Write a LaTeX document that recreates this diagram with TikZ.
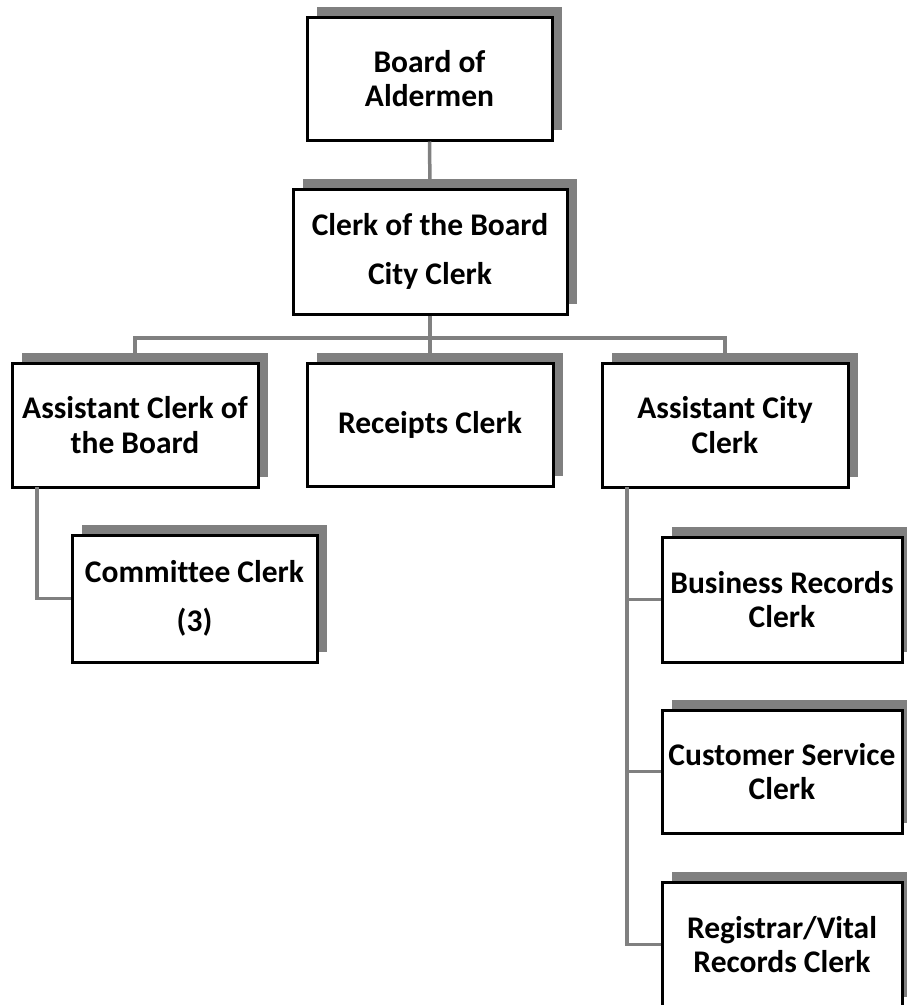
\documentclass[tikz,border=0pt]{standalone}
\usepackage{fontspec}
\setmainfont{Carlito}[Ligatures=CommonOff]
\usetikzlibrary{shadows}
\begin{document}
\begin{tikzpicture}[x=1pt,y=-1pt,
  box/.style={draw=black, line width=3pt, fill=white, align=center,
    font=\fontsize{31.5}{34.5}\selectfont\bfseries, inner sep=0pt,
    general shadow={fill=black!50, shadow xshift=10pt, shadow yshift=10pt}},
  conn/.style={draw=black!50, line width=3.5pt}]
\useasboundingbox (0,0) rectangle (907,1005);
\node[box, minimum width=245pt, minimum height=123pt] (board) at (429.5,78.5) {Board of\\Aldermen};
\node[box, minimum width=274pt, minimum height=125pt] (clerk) at (430,251.5) {Clerk of the Board\\[15pt]City Clerk};
\node[box, minimum width=246pt, minimum height=124pt] (asst) at (135,425) {Assistant Clerk of\\the Board};
\node[box, minimum width=246pt, minimum height=123pt] (receipts) at (430,424.5) {Receipts Clerk};
\node[box, minimum width=246pt, minimum height=124pt] (acity) at (725,425) {Assistant City\\Clerk};
\node[box, minimum width=245pt, minimum height=127pt] (committee) at (194.5,598.5) {Committee Clerk\\[14pt](3)};
\node[box, minimum width=240pt, minimum height=125pt] (business) at (782,599.5) {Business Records\\Clerk};
\node[box, minimum width=240pt, minimum height=123pt] (customer) at (782,771.5) {Customer Service\\Clerk};
\node[box, minimum width=240pt, minimum height=125pt] (registrar) at (782,944.5) {Registrar/Vital\\Records Clerk};
\coordinate (bus) at (430,338);
\coordinate (asstdrop) at (37,487);
\coordinate (acitydrop) at (627,487);
\draw[conn] (board.south) -- (clerk.north);
\draw[conn] (clerk.south) -- (bus);
\draw[conn] (asst.north) |- (bus) -| (acity.north);
\draw[conn] (bus) -- (receipts.north);
\draw[conn] (asstdrop) |- (committee.west);
\draw[conn] (acitydrop) |- (registrar.west);
\draw[conn] (acitydrop |- business.west) -- (business.west);
\draw[conn] (acitydrop |- customer.west) -- (customer.west);
\end{tikzpicture}
\end{document}
